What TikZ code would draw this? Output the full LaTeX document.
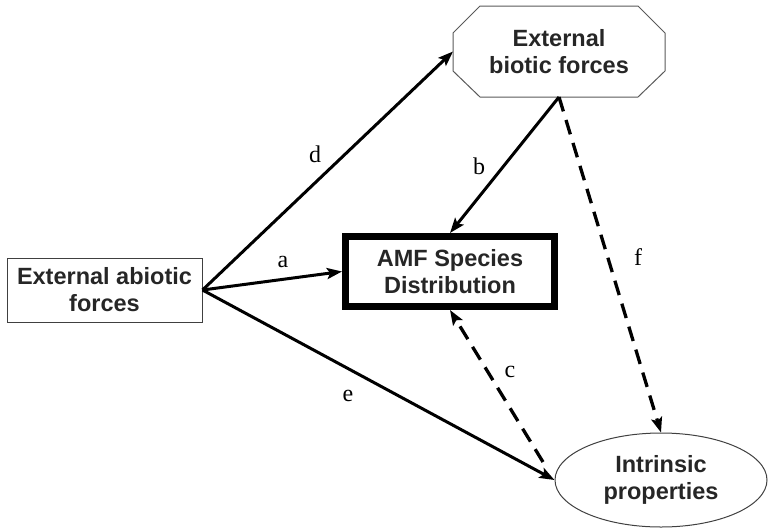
\documentclass[tikz,border=0pt]{standalone}
\usepackage{fontspec}
\setmainfont{Liberation Sans}
\newfontfamily\lblfont{Liberation Serif}
\usetikzlibrary{arrows.meta,calc,shapes.geometric}
\begin{document}
\begin{tikzpicture}[x=1pt,y=-1pt,
  boxtext/.style={font=\fontsize{23.5}{27}\selectfont\bfseries, align=center, text=black!85, inner sep=0pt},
  thinbox/.style={draw=black!75, line width=1pt},
  solidarrow/.style={line width=3pt, -{Stealth[length=15pt,width=11pt,inset=3pt]}},
  dasharrow/.style={line width=3.3pt, dash pattern=on 15pt off 9pt, -{Stealth[length=15pt,width=11pt,inset=3pt]}},
  lbl/.style={font=\lblfont\fontsize{24}{28}\selectfont, inner sep=0pt}]
\useasboundingbox (0,0) rectangle (768,531);
% nodes
\node[boxtext, thinbox, rectangle, minimum width=195pt, minimum height=64pt] (abio) at (104.5,290) {External abiotic\\forces};
\node[boxtext, draw, line width=7pt, rectangle, minimum width=209pt, minimum height=70pt] (amf) at (450,271.5) {AMF Species\\Distribution};
\node[boxtext, rectangle, minimum width=212pt, minimum height=91pt, outer sep=0pt] (bio) at (559,51.5) {External\\biotic forces};
\node[boxtext, thinbox, ellipse, minimum width=212pt, minimum height=94pt, inner sep=0pt] (ell) at (661,480) {Intrinsic\\properties};
% octagon outline
\draw[draw=black!65, line width=1pt]
  ([xshift=27pt]bio.north west) -- ([xshift=-27pt]bio.north east)
  -- ([yshift=-27pt]bio.north east) -- ([yshift=26pt]bio.south east)
  -- ([xshift=-27pt]bio.south east) -- ([xshift=27pt]bio.south west)
  -- ([yshift=26pt]bio.south west) -- ([yshift=-27pt]bio.north west) -- cycle;
\coordinate (cstart) at (543,462);
% connectors
\draw[solidarrow] (abio.east) -- (amf.west);
\draw[solidarrow] (abio.east) -- (bio.west);
\draw[solidarrow] (abio.east) -- (ell.west);
\draw[solidarrow] (bio.south) -- (amf.north);
\draw[dasharrow] (bio.south) -- (ell.north);
\draw[dasharrow] (cstart) -- (amf.south);
% labels
\node[lbl] (la) at (283,262) {a};
\node[lbl] (lb) at (479,166) {b};
\node[lbl] (lc) at (510,372) {c};
\node[lbl] (ld) at (315,154) {d};
\node[lbl] (le) at (348,396) {e};
\node[lbl] (lf) at (638,257) {f};
\end{tikzpicture}
\end{document}
